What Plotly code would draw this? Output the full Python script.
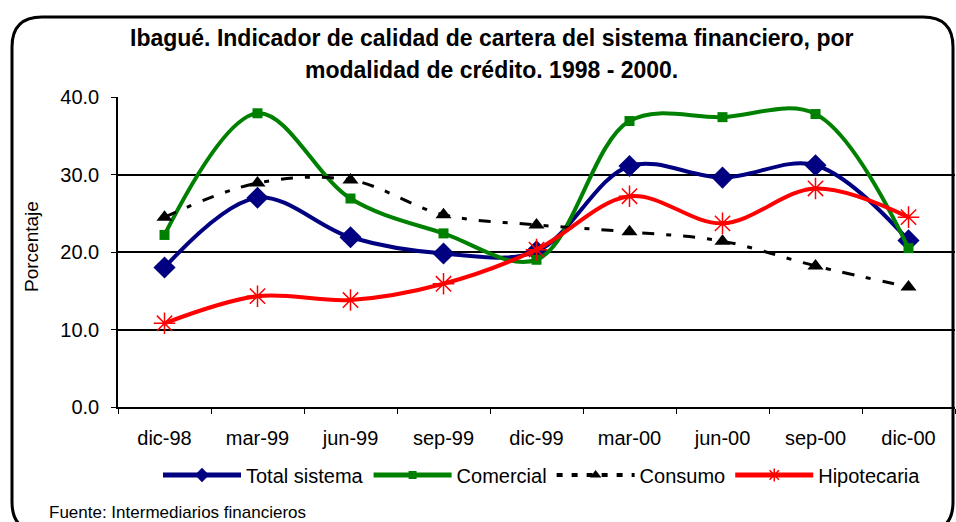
import plotly.graph_objects as go

categories = ["dic-98", "mar-99", "jun-99", "sep-99", "dic-99", "mar-00", "jun-00", "sep-00", "dic-00"]
total_sistema = [18.0, 27.0, 21.9, 19.8, 20.1, 31.1, 29.6, 31.2, 21.5]
comercial = [22.2, 37.9, 26.9, 22.4, 19.0, 36.9, 37.4, 37.8, 20.5]
consumo = [24.5, 28.9, 29.3, 24.8, 23.5, 22.6, 21.4, 18.2, 15.5]
hipotecaria = [10.8, 14.3, 13.8, 15.9, 20.3, 27.2, 23.7, 28.2, 24.5]
y_ticks = [0, 10, 20, 30, 40]

FONT = "Liberation Sans, Arial, sans-serif"

series = [
    dict(name="Total sistema", y=total_sistema, color="#000080", width=4, dash="solid",
         symbol="diamond", size=17, lsize=11, mline=0),
    dict(name="Comercial", y=comercial, color="#008000", width=4, dash="solid",
         symbol="square", size=10, lsize=8, mline=0),
    dict(name="Consumo", y=consumo, color="#000000", width=3, dash="12px,12px,5px,12px",
         symbol="triangle-up", size=14, lsize=10, mline=0),
    dict(name="Hipotecaria", y=hipotecaria, color="#FF0000", width=4, dash="solid",
         symbol="asterisk-open", size=18, lsize=11, mline=1.5),
]

fig = go.Figure()
for s in series:
    marker = dict(symbol=s["symbol"], size=s["size"], color=s["color"])
    if s["mline"]:
        marker["line"] = dict(color=s["color"], width=s["mline"])
    fig.add_trace(go.Scatter(
        x=categories, y=s["y"], name=s["name"], mode="lines+markers", showlegend=False,
        line=dict(color=s["color"], width=s["width"], shape="spline", smoothing=1, dash=s["dash"]),
        marker=marker,
    ))
# legend entries (smaller markers, as in the original legend)
for s in series:
    marker = dict(symbol=s["symbol"], size=s["lsize"], color=s["color"])
    if s["mline"]:
        marker["line"] = dict(color=s["color"], width=s["mline"])
    fig.add_trace(go.Scatter(
        x=[None], y=[None], name=s["name"], mode="lines+markers", showlegend=True,
        line=dict(color=s["color"], width=s["width"] + 1 if s["dash"] == "solid" else 4,
                  dash="solid" if s["dash"] == "solid" else "6px,9px"),
        marker=marker,
    ))

L, T, B = 118, 97, 115
W, H = 956, 522
PW = W - L - 1
PH = H - T - B

def px(xp):
    return (xp - L) / PW

def py(yp):
    return (H - B - yp) / PH

# rounded frame
l, t, r, b, rad = 12, 17, 953, 532, 30
path = (
    f"M {px(l+rad)},{py(t)} L {px(r-rad)},{py(t)} Q {px(r)},{py(t)} {px(r)},{py(t+rad)} "
    f"L {px(r)},{py(b-rad)} Q {px(r)},{py(b)} {px(r-rad)},{py(b)} "
    f"L {px(l+rad)},{py(b)} Q {px(l)},{py(b)} {px(l)},{py(b-rad)} "
    f"L {px(l)},{py(t+rad)} Q {px(l)},{py(t)} {px(l+rad)},{py(t)} Z"
)
fig.add_shape(type="path", xref="paper", yref="paper", path=path,
              line=dict(color="black", width=3), layer="above")

fig.add_annotation(text="<b>Ibagué. Indicador de calidad de cartera del sistema financiero, por</b>",
                   xref="paper", yref="paper", x=px(491), y=py(38), showarrow=False,
                   font=dict(family=FONT, size=23, color="black"), xanchor="center", yanchor="middle")
fig.add_annotation(text="<b>modalidad de crédito. 1998 - 2000.</b>",
                   xref="paper", yref="paper", x=px(491), y=py(70), showarrow=False,
                   font=dict(family=FONT, size=23, color="black"), xanchor="center", yanchor="middle")
fig.add_annotation(text="Porcentaje", textangle=-90,
                   xref="paper", yref="paper", x=px(31), y=py(247), showarrow=False,
                   font=dict(family=FONT, size=19, color="black"), xanchor="center", yanchor="middle")
fig.add_annotation(text="Fuente: Intermediarios financieros",
                   xref="paper", yref="paper", x=px(47), y=py(512), showarrow=False,
                   font=dict(family=FONT, size=17, color="black"), xanchor="left", yanchor="middle")

fig.update_layout(
    width=W, height=H,
    margin=dict(l=L, r=1, t=T, b=B),
    paper_bgcolor="white", plot_bgcolor="white",
    font=dict(family=FONT, size=19, color="black"),
    showlegend=True,
    legend=dict(orientation="h", x=px(542), xanchor="center", y=py(475), yanchor="middle",
                itemwidth=78, font=dict(family=FONT, size=20, color="black"),
                bgcolor="rgba(0,0,0,0)", tracegroupgap=0),
    xaxis=dict(type="category", categoryorder="array", categoryarray=categories,
               range=[-0.5, 8.5], showgrid=False, showline=True, linecolor="black", linewidth=1.5,
               ticks="outside", tickson="boundaries", ticklen=5, tickcolor="black", tickwidth=1,
               ticklabelstandoff=12, tickfont=dict(family=FONT, size=20), zeroline=False),
    yaxis=dict(range=[0, 40], tickvals=y_ticks, tickformat=".1f", showgrid=True, gridcolor="black",
               gridwidth=1.5, showline=True, linecolor="black", linewidth=1.5,
               ticks="outside", ticklen=5, tickcolor="black", tickwidth=1, ticklabelstandoff=8,
               tickfont=dict(family=FONT, size=20), zeroline=False),
)

fig.write_html("out.html", config={"displayModeBar": False},
               post_script="document.body.style.margin='0';document.body.style.overflow='hidden';")
